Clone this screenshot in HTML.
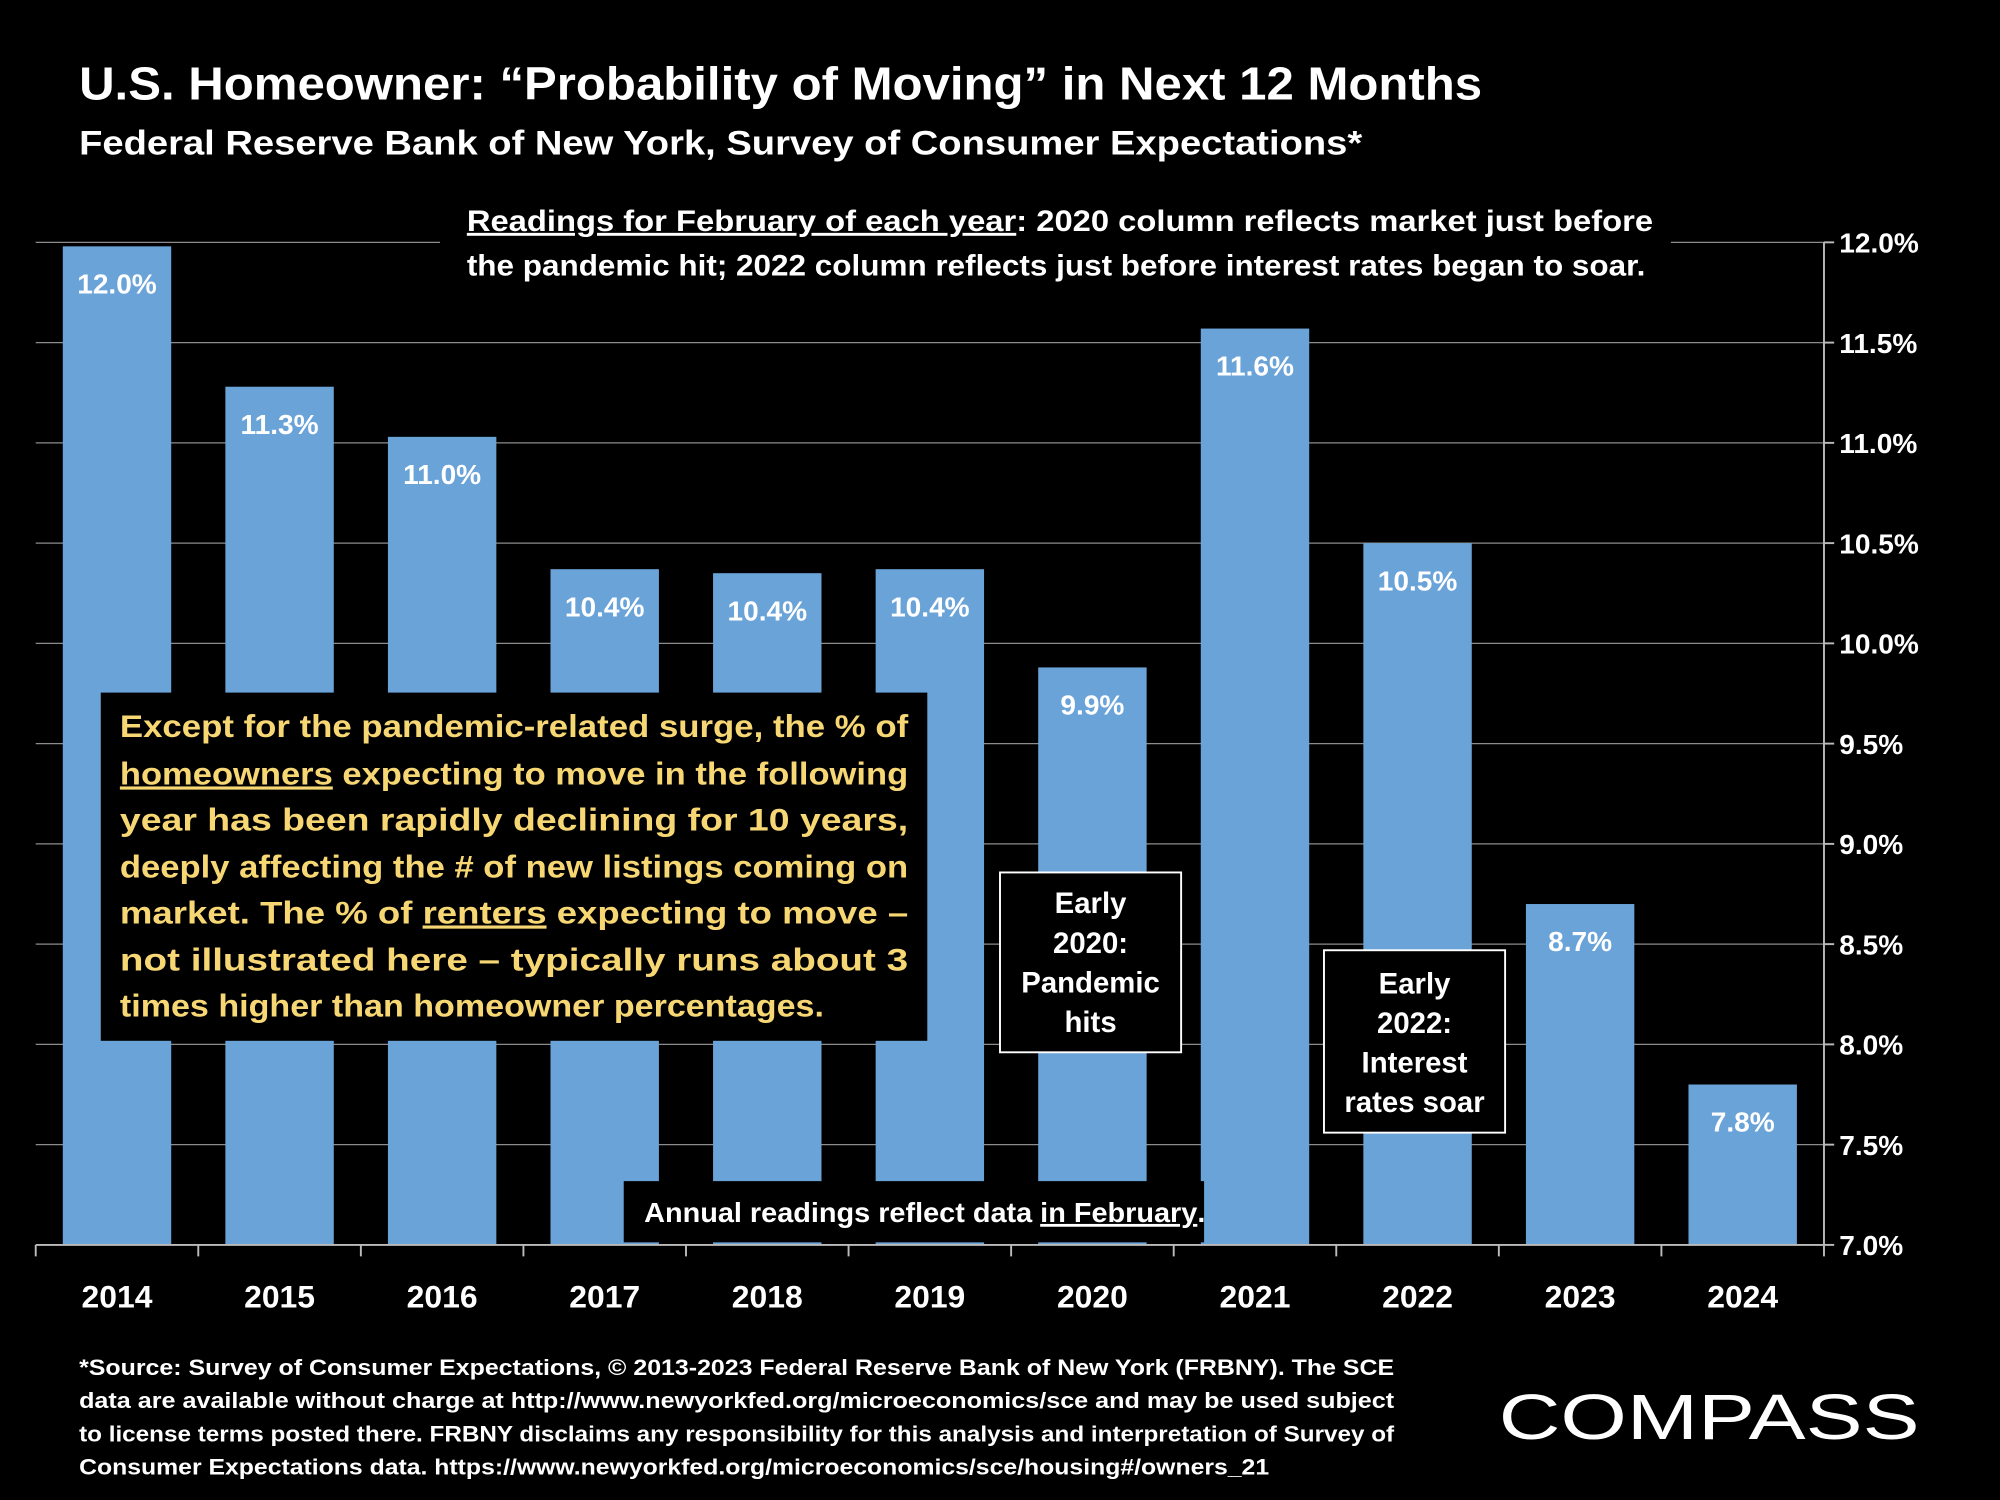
<!DOCTYPE html>
<html><head><meta charset="utf-8"><style>
html,body{margin:0;padding:0;background:#000;}
svg{display:block;font-family:"Liberation Sans",sans-serif;}
</style></head><body>
<svg id="chart" width="2000" height="1500" viewBox="0 0 1568 1176" xmlns="http://www.w3.org/2000/svg">
<rect x="0" y="0" width="1568" height="1176" fill="#000"/>
<text x="62" y="78" fill="#fff" font-size="36" font-weight="bold" textLength="1100" lengthAdjust="spacingAndGlyphs">U.S. Homeowner: “Probability of Moving” in Next 12 Months</text>
<text x="62" y="121" fill="#fff" font-size="27" font-weight="bold" textLength="1006" lengthAdjust="spacingAndGlyphs">Federal Reserve Bank of New York, Survey of Consumer Expectations*</text>
<g id="grid"></g>
<g id="bars"></g>
<g id="axes"></g>
<rect x="345" y="150" width="965" height="80" fill="#000"/>
<g fill="#fff" font-size="23" font-weight="bold">
<text x="366" y="181" textLength="930" lengthAdjust="spacingAndGlyphs"><tspan text-decoration="underline">Readings for February of each year</tspan>: 2020 column reflects market just before</text>
<text x="366" y="216" textLength="924" lengthAdjust="spacingAndGlyphs">the pandemic hit; 2022 column reflects just before interest rates began to soar.</text>
</g>
<g>
<rect x="79" y="543" width="648" height="273" fill="#000"/>
<g fill="#f7d774" font-size="25" font-weight="bold">
<text x="94" y="578" textLength="618" lengthAdjust="spacingAndGlyphs">Except for the pandemic-related surge, the % of</text>
<text x="94" y="615" textLength="618" lengthAdjust="spacingAndGlyphs"><tspan text-decoration="underline">homeowners</tspan> expecting to move in the following</text>
<text x="94" y="651" textLength="618" lengthAdjust="spacingAndGlyphs">year has been rapidly declining for 10 years,</text>
<text x="94" y="688" textLength="618" lengthAdjust="spacingAndGlyphs">deeply affecting the # of new listings coming on</text>
<text x="94" y="724" textLength="618" lengthAdjust="spacingAndGlyphs">market. The % of <tspan text-decoration="underline">renters</tspan> expecting to move –</text>
<text x="94" y="761" textLength="618" lengthAdjust="spacingAndGlyphs">not illustrated here – typically runs about 3</text>
<text x="94" y="797" textLength="552" lengthAdjust="spacingAndGlyphs">times higher than homeowner percentages.</text>
</g></g>
<g>
<rect x="784" y="684" width="142" height="141" fill="#000" stroke="#fff" stroke-width="1.5"/>
<g fill="#fff" font-size="23" font-weight="bold" text-anchor="middle">
<text x="855" y="716">Early</text><text x="855" y="747">2020:</text><text x="855" y="778">Pandemic</text><text x="855" y="809">hits</text></g></g>
<g>
<rect x="1038" y="745" width="142" height="143" fill="#000" stroke="#fff" stroke-width="1.5"/>
<g fill="#fff" font-size="23" font-weight="bold" text-anchor="middle">
<text x="1109" y="779">Early</text><text x="1109" y="810">2022:</text><text x="1109" y="841">Interest</text><text x="1109" y="872">rates soar</text></g></g>
<g>
<rect x="489" y="926" width="455" height="48" fill="#000"/>
<text x="505" y="958" fill="#fff" font-size="22" font-weight="bold" textLength="440" lengthAdjust="spacingAndGlyphs">Annual readings reflect data <tspan text-decoration="underline">in February</tspan>.</text>
</g>
<g fill="#fff" font-size="17.5" font-weight="bold">
<text x="62" y="1078" textLength="1031" lengthAdjust="spacingAndGlyphs">*Source:  Survey of Consumer Expectations, © 2013-2023 Federal Reserve Bank of New York (FRBNY).  The SCE</text>
<text x="62" y="1104" textLength="1031" lengthAdjust="spacingAndGlyphs">data are available without charge at http://www.newyorkfed.org/microeconomics/sce and may be used subject</text>
<text x="62" y="1130" textLength="1031" lengthAdjust="spacingAndGlyphs">to license terms posted there. FRBNY disclaims any responsibility for this analysis and interpretation of Survey of</text>
<text x="62" y="1156" textLength="933" lengthAdjust="spacingAndGlyphs">Consumer Expectations data. https://www.newyorkfed.org/microeconomics/sce/housing#/owners_21</text>
</g>
<text x="1175" y="1128" fill="#fff" font-size="50" textLength="330" lengthAdjust="spacingAndGlyphs">COMPASS</text>
</svg>
<script>
const categories = ["2014","2015","2016","2017","2018","2019","2020","2021","2022","2023","2024"];
const values = [11.98,11.28,11.03,10.37,10.35,10.37,9.88,11.57,10.5,8.7,7.8];
const valueLabels = ["12.0%","11.3%","11.0%","10.4%","10.4%","10.4%","9.9%","11.6%","10.5%","8.7%","7.8%"];
const yTicks = [7.0,7.5,8.0,8.5,9.0,9.5,10.0,10.5,11.0,11.5,12.0];
const yTickLabels = ["7.0%","7.5%","8.0%","8.5%","9.0%","9.5%","10.0%","10.5%","11.0%","11.5%","12.0%"];

const NS="http://www.w3.org/2000/svg";
const left=28, right=1430, y0=976, y1=190, vMin=7, vMax=12;
const band=(right-left)/categories.length;
function yScale(v){return y0-(v-vMin)/(vMax-vMin)*(y0-y1);}
function xCenter(i){return left+band*(i+0.5);}
function mk(tag,attrs,parent){const e=document.createElementNS(NS,tag);for(const k in attrs)e.setAttribute(k,attrs[k]);parent.appendChild(e);return e;}
const grid=document.getElementById('grid'),bars=document.getElementById('bars'),axes=document.getElementById('axes');
yTicks.forEach((t,i)=>{
  const y=yScale(t);
  if(i>0){const g=mk('line',{x1:left,x2:right,y1:y,y2:y,stroke:'#8c8c8c','stroke-width':1},grid);
  
  }
  const tk=mk('line',{x1:right,x2:right+8,y1:y,y2:y,stroke:'#bbb','stroke-width':1.5},axes);
  
  
  const lb=mk('text',{x:right+12,y:y+8,fill:'#fff','font-size':22,'font-weight':'bold'},axes);
  
  
  lb.textContent=yTickLabels[i];
});
const ya=mk('line',{x1:right,x2:right,y1:y1,y2:y0,stroke:'#bbb','stroke-width':1.5},axes);


const xa=mk('line',{x1:left,x2:right,y1:y0,y2:y0,stroke:'#bbb','stroke-width':1.5},axes);


for(let i=0;i<=categories.length;i++){
  const x=left+band*i;
  const t=mk('line',{x1:x,x2:x,y1:y0,y2:y0+9,stroke:'#bbb','stroke-width':1.5},axes);
  
  
}
const bw=85;
categories.forEach((c,i)=>{
  const x=xCenter(i), top=yScale(values[i]);
  const r=mk('rect',{x:x-bw/2,y:top,width:bw,height:y0-top,fill:'#6aa3d8'},bars);
  
  
  const v=mk('text',{x:x,y:top+37,fill:'#fff','font-size':22,'font-weight':'bold','text-anchor':'middle'},bars);
  
  
  v.textContent=valueLabels[i];
  const xl=mk('text',{x:x,y:y0+49,fill:'#fff','font-size':25,'font-weight':'bold','text-anchor':'middle'},axes);
  
  
  xl.textContent=c;
});
</script>
</body></html>
